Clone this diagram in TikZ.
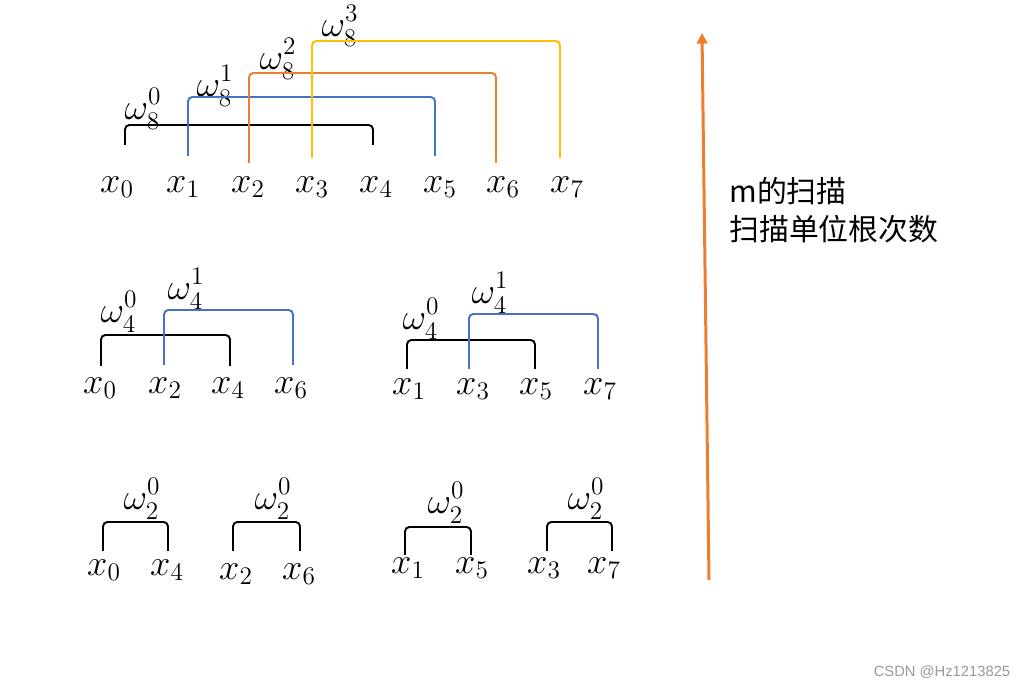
\documentclass[tikz,border=0pt]{standalone}
\usepackage{fontspec}
\newfontfamily\cjk{Noto Sans CJK SC}
\newfontfamily\wmfont{Liberation Sans}
\usetikzlibrary{arrows.meta}
\definecolor{cblue}{HTML}{4472C4}
\definecolor{corange}{HTML}{ED7D31}
\definecolor{cyellow}{HTML}{FFC000}
\newcommand\wroot[2]{\omega^{\raisebox{0.8pt}{$\scriptstyle #2$}}_{\raisebox{-0.8pt}{$\scriptstyle #1$}}}
\begin{document}
\begin{tikzpicture}[x=0.02cm,y=-0.02cm,
  brk/.style={line width=1.1pt, rounded corners=2.5pt},
  lab/.style={inner sep=0pt, font=\fontsize{20}{24}\selectfont},
  wlab/.style={inner sep=0pt, font=\fontsize{20}{24}\selectfont}]
\useasboundingbox (0,0) rectangle (1024,688);

% ---------- top row (8 points) ----------
\node[lab] (t0) at (117,187) {$x_0$};
\node[lab] (t1) at (183,187) {$x_1$};
\node[lab] (t2) at (248,187) {$x_2$};
\node[lab] (t3) at (312,187) {$x_3$};
\node[lab] (t4) at (376,187) {$x_4$};
\node[lab] (t5) at (440,187) {$x_5$};
\node[lab] (t6) at (503,187) {$x_6$};
\node[lab] (t7) at (567,187) {$x_7$};
\node[wlab] (w80) at (143,109) {$\wroot{8}{0}$};
\node[wlab] (w81) at (215,86) {$\wroot{8}{1}$};
\node[wlab] (w82) at (278,59) {$\wroot{8}{2}$};
\node[wlab] (w83) at (340,26) {$\wroot{8}{3}$};
\coordinate (a0l) at (125,145); \coordinate (a0r) at (373,145);
\coordinate (a1l) at (188,156); \coordinate (a1r) at (435,156);
\coordinate (a2l) at (249,163); \coordinate (a2r) at (496,163);
\coordinate (a3l) at (312,158); \coordinate (a3r) at (560,158);
\draw[brk] (a0l) -- ++(0,-20) -| (a0r);
\draw[brk,cblue] (a1l) -- ++(0,-59) -| (a1r);
\draw[brk,corange] (a2l) -- ++(0,-90) -| (a2r);
\draw[brk,cyellow] (a3l) -- ++(0,-117) -| (a3r);

% ---------- middle left ----------
\node[lab] (m0) at (100,388) {$x_0$};
\node[lab] (m2) at (165,388) {$x_2$};
\node[lab] (m4) at (228,388) {$x_4$};
\node[lab] (m6) at (291,388) {$x_6$};
\node[wlab] (w40a) at (119,312) {$\wroot{4}{0}$};
\node[wlab] (w41a) at (186,289) {$\wroot{4}{1}$};
\coordinate (b0l) at (101,366); \coordinate (b0r) at (230,366);
\coordinate (b1l) at (164,365); \coordinate (b1r) at (293,365);
\draw[brk] (b0l) -- ++(0,-31) -| (b0r);
\draw[brk,cblue] (b1l) -- ++(0,-55) -| (b1r);

% ---------- middle right ----------
\node[lab] (n1) at (409,389) {$x_1$};
\node[lab] (n3) at (473,389) {$x_3$};
\node[lab] (n5) at (536,389) {$x_5$};
\node[lab] (n7) at (600,389) {$x_7$};
\node[wlab] (w40b) at (421,319) {$\wroot{4}{0}$};
\node[wlab] (w41b) at (490,293) {$\wroot{4}{1}$};
\coordinate (c0l) at (407,369); \coordinate (c0r) at (535,369);
\coordinate (c1l) at (469,369); \coordinate (c1r) at (598,369);
\draw[brk] (c0l) -- ++(0,-29) -| (c0r);
\draw[brk,cblue] (c1l) -- ++(0,-55) -| (c1r);

% ---------- bottom row ----------
\node[lab] (p0) at (104,570) {$x_0$};
\node[lab] (p4) at (167,570) {$x_4$};
\node[lab] (p2) at (236,574) {$x_2$};
\node[lab] (p6) at (299,574) {$x_6$};
\node[lab] (p1) at (408,568) {$x_1$};
\node[lab] (p5) at (472,568) {$x_5$};
\node[lab] (p3) at (544,568) {$x_3$};
\node[lab] (p7) at (604,568) {$x_7$};
\node[wlab] (w2a) at (142,499) {$\wroot{2}{0}$};
\node[wlab] (w2b) at (273,499) {$\wroot{2}{0}$};
\node[wlab] (w2c) at (446,503) {$\wroot{2}{0}$};
\node[wlab] (w2d) at (586,499) {$\wroot{2}{0}$};
\coordinate (d0l) at (103,551); \coordinate (d0r) at (168,551);
\coordinate (d1l) at (233,551); \coordinate (d1r) at (300,551);
\coordinate (d2l) at (405,555); \coordinate (d2r) at (471,555);
\coordinate (d3l) at (547,551); \coordinate (d3r) at (612,551);
\draw[brk] (d0l) -- ++(0,-29) -| (d0r);
\draw[brk] (d1l) -- ++(0,-29) -| (d1r);
\draw[brk] (d2l) -- ++(0,-28) -| (d2r);
\draw[brk] (d3l) -- ++(0,-29) -| (d3r);

% ---------- arrow and caption ----------
\coordinate (abot) at (709,580);
\coordinate (atop) at (702,33);
\draw[corange, line width=1.7pt, -{Triangle[length=6pt,width=6pt]}] (abot) -- (atop);
\node[anchor=west, inner sep=0pt, align=left, font=\cjk\fontsize{17}{21.6}\selectfont] (cap) at (729,210) {m的扫描\\扫描单位根次数};

\node[inner sep=0pt, text=black!40, font=\wmfont\fontsize{8.4}{10}\selectfont] (wm) at (942,672) {CSDN @Hz1213825};
\end{tikzpicture}
\end{document}
